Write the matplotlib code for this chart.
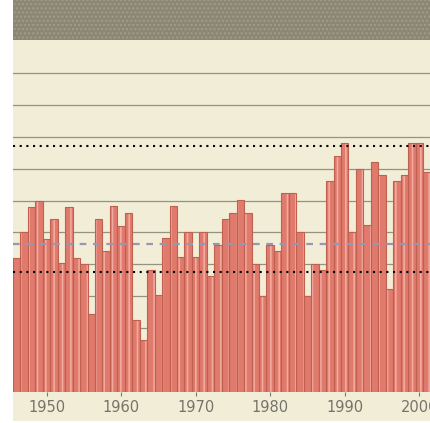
import matplotlib
matplotlib.use("Agg")
import matplotlib.pyplot as plt
from matplotlib.patches import Rectangle

years = list(range(1946, 2002))
values = [4.21, 5.00, 5.81, 5.97, 4.80, 5.42, 4.03, 5.81, 4.20, 4.00,
          2.43, 5.42, 4.43, 5.82, 5.20, 5.62, 2.26, 1.63, 3.82, 3.04,
          4.82, 5.82, 4.23, 5.02, 4.23, 5.02, 3.65, 4.62, 5.41, 5.62,
          6.02, 5.62, 4.01, 3.02, 4.60, 4.43, 6.23, 6.23, 5.02, 3.02,
          4.01, 3.82, 6.61, 7.41, 7.80, 5.00, 6.99, 5.22, 7.21, 6.80,
          3.23, 6.61, 6.80, 7.80, 7.80, 6.90]
tick_years = [1950, 1960, 1970, 1980, 1990, 2000]
upper_ref = 7.71
mean_ref = 4.64
lower_ref = 3.76

W, H = 430, 423
fig = plt.figure(figsize=(W / 100, H / 100), dpi=100)
fig.patch.set_facecolor("white")

# cream panel and the dark header band, kept under the axes
fig.patches.append(Rectangle((13 / W, 2 / H), 1 - 13 / W, 1 - 2 / H,
                             transform=fig.transFigure, facecolor="#f2edd6",
                             edgecolor="none", zorder=-2))
fig.patches.append(Rectangle((13 / W, (H - 40) / H), 1 - 13 / W, 40 / H,
                             transform=fig.transFigure, facecolor="#8c8674",
                             edgecolor="#a29c8a", hatch="....", linewidth=0,
                             zorder=-1))

ax = fig.add_axes([13 / W, (H - 392) / H, 1 - 13 / W, (392 - 40) / H])
ax.set_zorder(5)
ax.set_facecolor("none")

ax.set_xlim(1945.5, 2001.44)
ax.set_ylim(0, 11.03)

for g in range(1, 11):
    ax.axhline(g, color="#959380", linewidth=0.9, zorder=1)

plt.rcParams["hatch.linewidth"] = 1.2
ax.bar(years, values, width=1.0, color="#e07a6c", edgecolor="#f2aaa0",
       hatch="||", linewidth=0, zorder=2)
ax.bar(years, values, width=1.0, fill=False, edgecolor="#c0604e",
       linewidth=0.8, zorder=3)

ax.axhline(upper_ref, color="black", linewidth=1.5,
           linestyle=(0, (1, 2.2)), zorder=4)
ax.axhline(lower_ref, color="black", linewidth=1.5,
           linestyle=(0, (1, 2.2)), zorder=4)
ax.axhline(mean_ref, color="#9896b4", linewidth=1.6,
           linestyle=(0, (3, 3)), zorder=4)

for s in ax.spines.values():
    s.set_visible(False)
ax.set_yticks([])
ax.set_xticks(tick_years)
ax.set_xticklabels([str(y) for y in tick_years],
                   family=["Liberation Sans Narrow", "DejaVu Sans"],
                   fontsize=10.5, color="#74746a")
ax.tick_params(axis="x", direction="out", length=3, width=0.8,
               color="#7a7a70", pad=3)

fig.savefig("out.png", dpi=100)
